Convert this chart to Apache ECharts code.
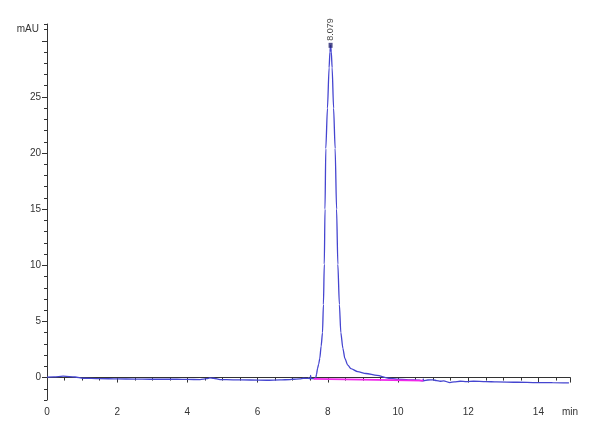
<!DOCTYPE html>
<html>
<head>
<meta charset="utf-8">
<script src="https://cdn.jsdelivr.net/npm/echarts@6/dist/echarts.min.js"></script>
<style>
html, body { margin: 0; padding: 0; background: #fff; }
#main { width: 600px; height: 439px; }
</style>
</head>
<body>
<div id="main"></div>
<script>
// retention time (min) and absorbance (mAU)
var times = [0, 0.2, 0.46, 0.8, 1.03, 1.5, 2.0, 2.5, 2.93, 3.4, 3.7, 4.0, 4.36, 4.55, 4.64, 4.75, 4.93, 5.3, 5.8, 6.26, 6.64, 6.92, 7.0, 7.2, 7.3, 7.45, 7.5, 7.51, 7.52, 7.6,
    7.657, 7.68, 7.706, 7.74, 7.771, 7.81, 7.849, 7.875, 7.9, 7.92, 7.943, 7.99, 8.037, 8.06, 8.079, 8.1, 8.123, 8.165, 8.209, 8.25, 8.286, 8.33, 8.371, 8.43, 8.486, 8.57, 8.657, 8.85, 9.086, 9.4, 9.74,
    9.96, 10.3, 10.6, 10.71, 10.72, 10.73, 10.85, 11.0, 11.1, 11.2, 11.3, 11.48, 11.6, 11.77, 11.95, 12.15, 12.5, 12.81, 13.4, 13.95, 14.4, 14.87];
var mau = [0.03, 0.06, 0.12, 0.05, -0.06, -0.09, -0.12, -0.14, -0.15, -0.15, -0.15, -0.17, -0.18, -0.1, -0.03, -0.06, -0.18, -0.2, -0.22, -0.24, -0.21, -0.18, -0.15, -0.12, -0.06, -0.08, -0.09, 0.2, -0.09, -0.1,
    -0.02, 0.3, 0.8, 1.2, 1.7, 2.8, 4.0, 6.5, 10.1, 15.0, 20.4, 24.0, 27.6, 29.0, 29.6, 29.0, 27.6, 24.0, 20.4, 15.0, 10.1, 6.5, 4.0, 2.6, 1.7, 1.1, 0.8, 0.52, 0.36, 0.2, -0.06,
    -0.15, -0.2, -0.24, -0.3, -0.12, -0.3, -0.22, -0.21, -0.27, -0.33, -0.3, -0.45, -0.38, -0.33, -0.36, -0.33, -0.36, -0.39, -0.42, -0.45, -0.46, -0.48];

// integration baseline drawn under the peak
var baseTimes = [7.6, 10.72];
var baseMau = [-0.12, -0.27];

var peakTime = 8.079;
var peakMau = 29.6;
var peakLabel = '8.079';

var xLabels = [0, 2, 4, 6, 8, 10, 12, 14];
var yLabels = [0, 5, 10, 15, 20, 25];
var yMajor = [0, 5, 10, 15, 20, 25, 30];

var trace = times.map(function (t, i) { return [t, mau[i]]; });
var baseline = baseTimes.map(function (t, i) { return [t, baseMau[i]]; });

var font = '"Liberation Sans Narrow", "Liberation Sans", Arial, sans-serif';
var axisCol = '#333';

var chart = echarts.init(document.getElementById('main'));
chart.setOption({
    animation: false,
    grid: { left: 47, right: 30, top: 24, bottom: 39 },
    xAxis: [
        {
            type: 'value', min: 0, max: 14.9, position: 'bottom',
            splitLine: { show: false },
            axisLine: { lineStyle: { color: axisCol, width: 1 } },
            axisTick: { length: 5, customValues: xLabels.concat([14.9]), lineStyle: { color: axisCol } },
            axisLabel: {
                customValues: xLabels.concat([14.9]),
                margin: 7, color: '#333', fontSize: 10, fontFamily: font,
                formatter: function (v) { return v > 14.5 ? 'min' : String(v); }
            }
        },
        {
            // minor ticks every 0.5 min
            type: 'value', min: 0, max: 14.9, interval: 0.5, position: 'bottom',
            splitLine: { show: false },
            axisLine: { show: false },
            axisTick: { length: 3, lineStyle: { color: axisCol } },
            axisLabel: { show: false }
        }
    ],
    yAxis: [
        {
            type: 'value', min: -2, max: 31.5, position: 'left',
            name: 'mAU', nameLocation: 'end', nameGap: -5,
            nameTextStyle: { align: 'right', verticalAlign: 'middle', padding: [0, 8, 0, 0], color: '#333', fontSize: 10, fontFamily: font },
            splitLine: { show: false },
            axisLine: { lineStyle: { color: axisCol, width: 1 } },
            axisTick: { length: 5, customValues: yMajor, lineStyle: { color: axisCol } },
            axisLabel: { customValues: yLabels, margin: 6, color: '#333', fontSize: 10, fontFamily: font }
        },
        {
            // minor ticks every 1 mAU
            type: 'value', min: -2, max: 31.5, interval: 1, position: 'left',
            splitLine: { show: false },
            axisLine: { show: false },
            axisTick: { length: 3, lineStyle: { color: axisCol } },
            axisLabel: { show: false }
        }
    ],
    series: [
        {
            type: 'line', data: trace, xAxisIndex: 0, yAxisIndex: 0,
            symbol: 'none', smooth: 0.25, smoothMonotone: 'x',
            lineStyle: { color: '#4545d0', width: 1.3 }, z: 3
        },
        {
            type: 'line', data: baseline, xAxisIndex: 0, yAxisIndex: 0,
            symbol: 'none', lineStyle: { color: '#f028ea', width: 1.6 }, z: 4
        },
        {
            type: 'scatter', data: [[peakTime, peakMau]], xAxisIndex: 0, yAxisIndex: 0,
            symbol: 'rect', symbolSize: [4, 5],
            itemStyle: { color: '#232370' }, z: 5,
            label: {
                show: true, formatter: peakLabel, position: 'top', distance: 2,
                rotate: 90, align: 'left', verticalAlign: 'middle',
                color: '#111', fontSize: 9, fontFamily: font
            }
        }
    ]
});
</script>
</body>
</html>
